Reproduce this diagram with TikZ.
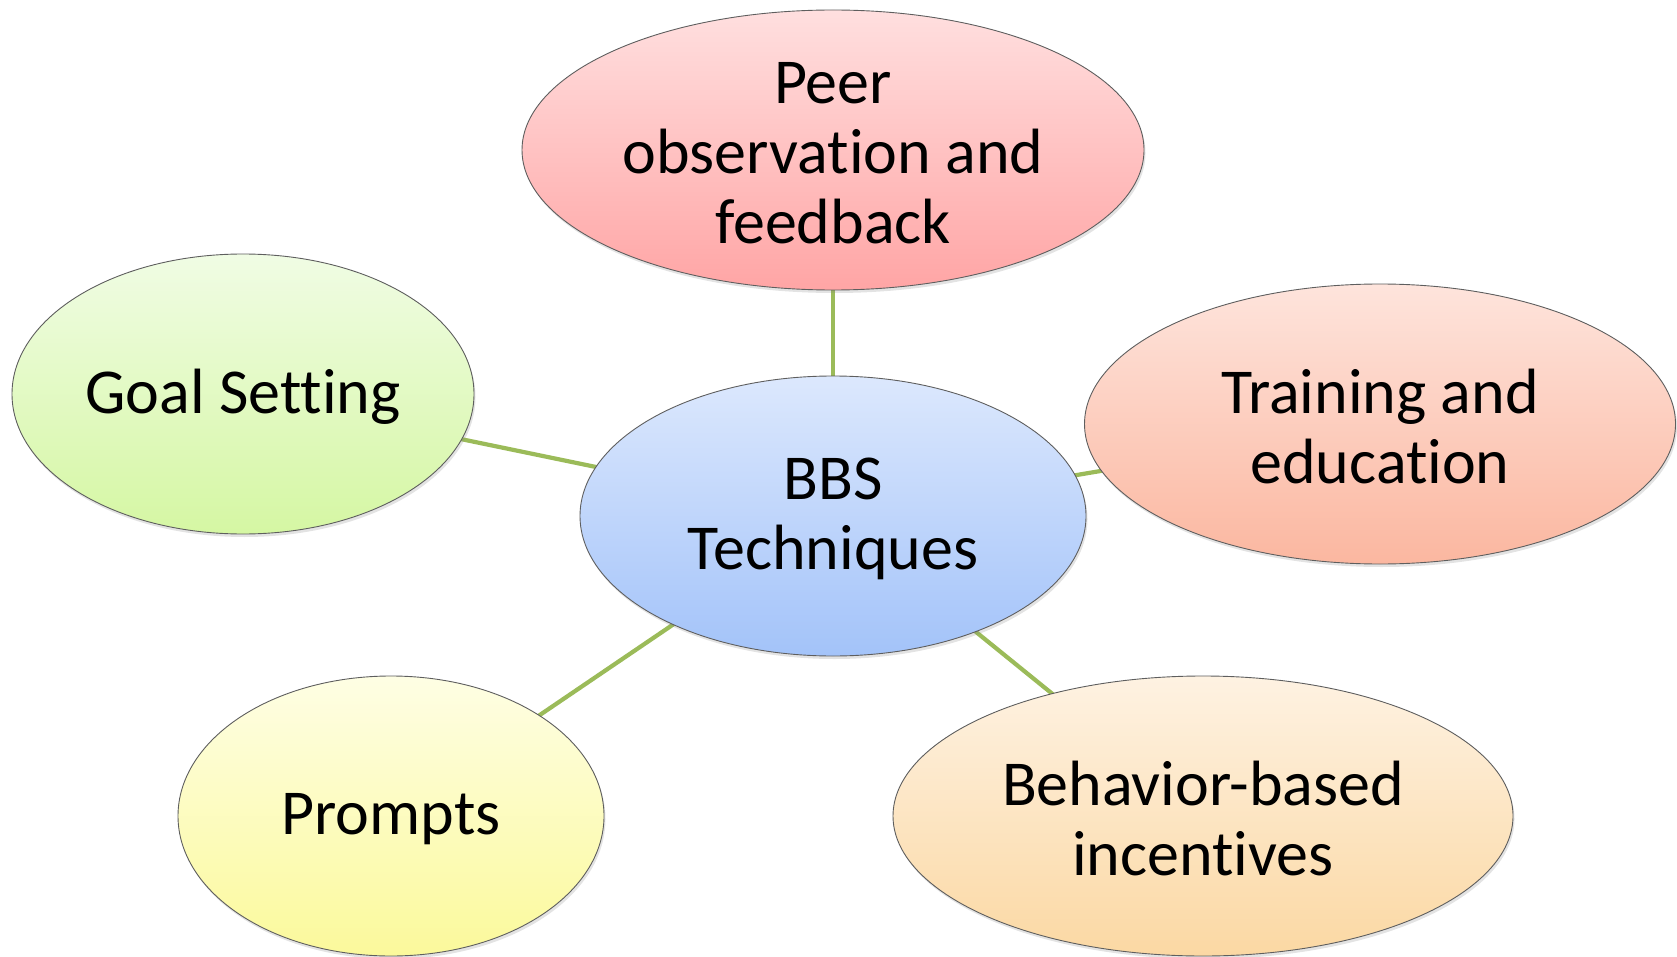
\documentclass[tikz,border=0pt]{standalone}
\usepackage{fontspec}
\setmainfont{Carlito}[Ligatures={NoCommon}]
\usetikzlibrary{shapes.geometric,shadows,backgrounds}
\definecolor{linkgreen}{HTML}{9BBB59}
\definecolor{outl}{HTML}{5E5E5E}
\tikzset{
  bubble/.style={ellipse, draw=outl, line width=0.9pt, inner sep=0pt,
    drop shadow={opacity=0.22, shadow xshift=1.5pt, shadow yshift=-3pt}},
  bubtext/.style={align=center, inner sep=0pt, yshift=-3pt, font=\fontsize{64}{70}\selectfont},
  link/.style={draw=linkgreen, line width=4.2pt},
}
\begin{document}
\begin{tikzpicture}[x=1pt,y=-1pt]
\useasboundingbox (0,0) rectangle (1677,957);
% ellipses
\node[bubble, minimum width=506pt, minimum height=280pt, top color={rgb,255:red,220;green,232;blue,253}, bottom color={rgb,255:red,163;green,195;blue,249}] (bbs) at (833,516) {};
\node[bubble, minimum width=622pt, minimum height=280pt, top color={rgb,255:red,255;green,223;blue,223}, bottom color={rgb,255:red,255;green,165;blue,165}] (peer) at (833,150) {};
\node[bubble, minimum width=462pt, minimum height=280pt, top color={rgb,255:red,240;green,252;blue,228}, bottom color={rgb,255:red,213;green,247;blue,163}] (goal) at (243,394) {};
\node[bubble, minimum width=591pt, minimum height=280pt, top color={rgb,255:red,254;green,228;blue,220}, bottom color={rgb,255:red,251;green,183;blue,160}] (train) at (1380,424) {};
\node[bubble, minimum width=426pt, minimum height=280pt, top color={rgb,255:red,254;green,254;blue,228}, bottom color={rgb,255:red,251;green,249;blue,155}] (prompts) at (391,816) {};
\node[bubble, minimum width=620pt, minimum height=280pt, top color={rgb,255:red,254;green,242;blue,226}, bottom color={rgb,255:red,251;green,216;blue,163}] (behav) at (1203,816) {};
% texts
\node[bubtext] (tbbs) at (bbs.center) {BBS\\Techniques};
\node[bubtext] (tpeer) at (peer.center) {Peer\\observation and\\feedback};
\node[bubtext] (tgoal) at (goal.center) {Goal Setting};
\node[bubtext] (ttrain) at (train.center) {Training and\\education};
\node[bubtext] (tprompts) at (prompts.center) {Prompts};
\node[bubtext] (tbehav) at (behav.center) {Behavior-based\\incentives};
% connectors
\begin{scope}[on background layer]
\draw[link] (bbs.center) -- (peer.center);
\draw[link] (bbs.center) -- (goal.center);
\draw[link] (bbs.center) -- (train.center);
\draw[link] (bbs.center) -- (prompts.center);
\draw[link] (bbs.center) -- (behav.center);
\end{scope}
\end{tikzpicture}
\end{document}
